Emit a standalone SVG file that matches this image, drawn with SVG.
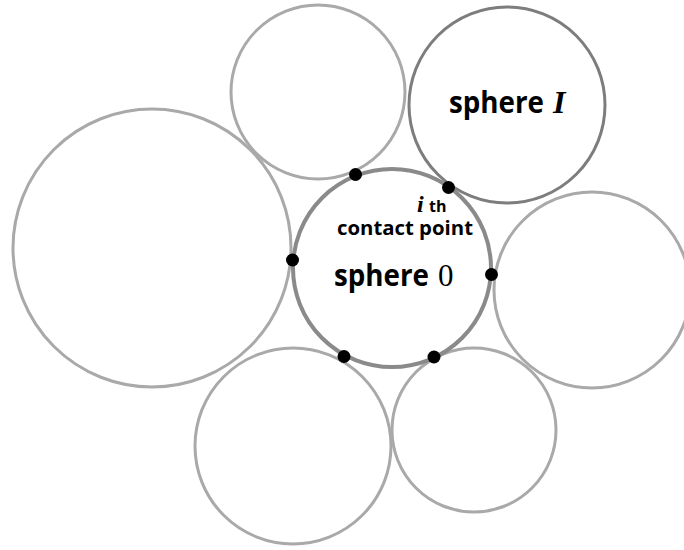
<svg xmlns="http://www.w3.org/2000/svg" width="684" height="550" viewBox="0 0 684 550">
<style>
.nb{fill:none;stroke:#a9a9a9;stroke-width:3}
.si{fill:none;stroke:#7d7d7d;stroke-width:3}
.s0{fill:none;stroke:#8a8a8a;stroke-width:4}
.dot{fill:#000}
.lbl{font-family:"Open Sans","Noto Sans",sans-serif;font-weight:bold;fill:#000}
.ser{font-family:"Liberation Serif",serif;fill:#000}
</style>
<rect width="684" height="550" fill="#fff"/>
<g id="sphere-left"><circle class="nb" cx="152" cy="248" r="139"/></g>
<g id="sphere-topleft"><circle class="nb" cx="318" cy="92" r="87"/></g>
<g id="sphere-I"><circle class="si" cx="507" cy="105" r="98"/>
<text x="449" y="113"><tspan class="lbl" font-size="30" textLength="95" lengthAdjust="spacingAndGlyphs">sphere</tspan><tspan class="ser" x="553" font-size="32" font-weight="bold" font-style="italic">I</tspan></text></g>
<g id="sphere-right"><circle class="nb" cx="592" cy="290" r="98"/></g>
<g id="sphere-bottomleft"><circle class="nb" cx="293" cy="446" r="98"/></g>
<g id="sphere-bottomright"><circle class="nb" cx="474" cy="430" r="82"/></g>
<g id="sphere-0"><circle class="s0" cx="392" cy="268" r="99"/>
<text x="334" y="286"><tspan class="lbl" font-size="30" textLength="95" lengthAdjust="spacingAndGlyphs">sphere</tspan><tspan class="ser" x="438" font-size="31">0</tspan></text></g>
<g id="contact-label">
<text x="417" y="212"><tspan class="ser" font-size="24" font-weight="bold" font-style="italic">i</tspan><tspan class="lbl" x="429" font-size="16">th</tspan></text>
<text class="lbl" x="337" y="235" font-size="19" textLength="136" lengthAdjust="spacingAndGlyphs">contact point</text>
</g>
<g id="contacts">
<circle class="dot" cx="355.5" cy="174.5" r="6.5"/>
<circle class="dot" cx="448.5" cy="187.5" r="6.5"/>
<circle class="dot" cx="292.5" cy="260" r="6.5"/>
<circle class="dot" cx="491.5" cy="274.5" r="6.5"/>
<circle class="dot" cx="344" cy="356.5" r="6.5"/>
<circle class="dot" cx="434" cy="357" r="6.5"/>
</g>
</svg>
